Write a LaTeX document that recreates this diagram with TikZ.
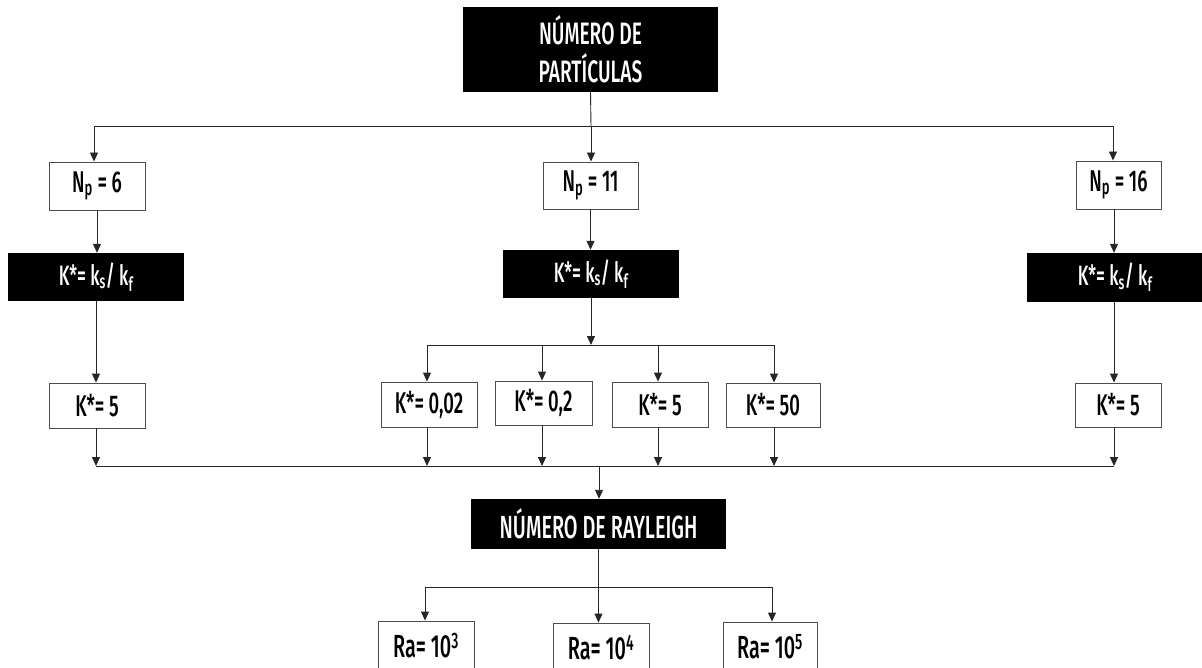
\documentclass[tikz,border=0pt]{standalone}
\usepackage{fontspec}
\setmainfont{Fira Sans Medium}[FakeStretch=0.62]
\usetikzlibrary{arrows.meta,calc}
\begin{document}
\begin{tikzpicture}[x=1pt,y=-1pt,
  wbox/.style={draw=black!70, line width=0.9pt, fill=white, inner sep=0pt, font=\fontsize{30}{32}\selectfont},
  bbox/.style={fill=black, text=white, inner sep=0pt, font=\fontsize{28}{30}\selectfont},
  ln/.style={draw=black!85, line width=0.9pt},
  arr/.style={ln, -{Triangle[length=9pt,width=8pt]}}]
\useasboundingbox (0,0) rectangle (1202,668);
% nodes
\node[bbox, minimum width=255pt, minimum height=85pt, align=center, font=\fontsize{31}{38}\selectfont] (top) at (590.5,49.5) {NÚMERO DE\\PARTÍCULAS};
\node[wbox, minimum width=96pt, minimum height=48pt] (np6) at (97,186) {N\textsubscript{p} = 6};
\node[wbox, minimum width=95pt, minimum height=47pt] (np11) at (590.5,185.5) {N\textsubscript{p} = 11};
\node[wbox, minimum width=85pt, minimum height=48pt] (np16) at (1118.5,185) {N\textsubscript{p} = 16};
\node[bbox, minimum width=176pt, minimum height=48pt] (k1) at (96,277) {K*= k\textsubscript{s}/ k\textsubscript{f}};
\node[bbox, minimum width=176pt, minimum height=48pt] (k2) at (591,274) {K*= k\textsubscript{s}/ k\textsubscript{f}};
\node[bbox, minimum width=176pt, minimum height=49pt] (k3) at (1115,277.5) {K*= k\textsubscript{s}/ k\textsubscript{f}};
\node[wbox, minimum width=96pt, minimum height=45pt] (k5L) at (97,405.5) {K*= 5};
\node[wbox, minimum width=96pt, minimum height=45pt] (m1) at (429,404.5) {K*= 0,02};
\node[wbox, minimum width=97pt, minimum height=44pt] (m2) at (543.5,403) {K*= 0,2};
\node[wbox, minimum width=96pt, minimum height=45pt] (m3) at (660,404.5) {K*= 5};
\node[wbox, minimum width=94pt, minimum height=44pt] (m4) at (773,405) {K*= 50};
\node[wbox, minimum width=86pt, minimum height=44pt] (k5R) at (1118,405) {K*= 5};
\node[bbox, minimum width=255pt, minimum height=50pt, font=\fontsize{32}{34}\selectfont] (ray) at (598.5,524) {NÚMERO DE RAYLEIGH};
\node[wbox, minimum width=96pt, minimum height=50pt, font=\fontsize{32}{34}\selectfont] (ra3) at (426,646) {Ra= 10\textsuperscript{3}};
\node[wbox, minimum width=96pt, minimum height=50pt, font=\fontsize{32}{34}\selectfont] (ra4) at (601,648) {Ra= 10\textsuperscript{4}};
\node[wbox, minimum width=94pt, minimum height=50pt, font=\fontsize{32}{34}\selectfont] (ra5) at (770,647) {Ra= 10\textsuperscript{5}};
% coordinates
\coordinate (tb) at (591,126);
\coordinate (tl) at (94,126);
\coordinate (tr) at (1113,126);
\coordinate (rx) at (1114,0);
\coordinate (mb) at (591,345);
\coordinate (ml) at (427,345);
\coordinate (m2x) at (542,345);
\coordinate (m3x) at (658,345);
\coordinate (mr) at (774,345);
\coordinate (bl) at (96,466);
\coordinate (br) at (1114,466);
\coordinate (bc) at (599,466);
\coordinate (rb) at (598.5,587);
\coordinate (rl) at (425,587);
\coordinate (rr) at (772,587);
% top branch
\draw[ln] (top.south) -- (tb);
\draw[ln] (tl) -- (tr);
\draw[arr] (tl) -- (tl |- np6.north);
\draw[arr] (tb) -- (tb |- np11.north);
\draw[arr] (tr) -- (tr |- np16.north);
% to K* boxes
\draw[arr] (np6.south) -- (np6.south |- k1.north);
\draw[arr] (np11.south) -- (np11.south |- k2.north);
\draw[arr] (rx |- np16.south) -- (rx |- k3.north);
% to K* values
\draw[arr] (k1.south) -- (k1.south |- k5L.north);
\draw[arr] (rx |- k3.south) -- (rx |- k5R.north);
\draw[arr] (k2.south) -- (mb);
\draw[ln] (ml) -- (mr);
\draw[arr] (ml) -- (ml |- m1.north);
\draw[arr] (m2x) -- (m2x |- m2.north);
\draw[arr] (m3x) -- (m3x |- m3.north);
\draw[arr] (mr) -- (mr |- m4.north);
% to bottom line
\draw[ln] (bl) -- (br);
\draw[arr] (bl |- k5L.south) -- (bl);
\draw[arr] (ml |- m1.south) -- (ml |- bl);
\draw[arr] (m2x |- m2.south) -- (m2x |- bl);
\draw[arr] (m3x |- m3.south) -- (m3x |- bl);
\draw[arr] (mr |- m4.south) -- (mr |- bl);
\draw[arr] (br |- k5R.south) -- (br);
% Rayleigh
\draw[arr] (bc) -- (bc |- ray.north);
\draw[ln] (ray.south) -- (rb);
\draw[ln] (rl) -- (rr);
\draw[arr] (rl) -- (rl |- ra3.north);
\draw[arr] (rb) -- (rb |- ra4.north);
\draw[arr] (rr) -- (rr |- ra5.north);
\end{tikzpicture}
\end{document}
